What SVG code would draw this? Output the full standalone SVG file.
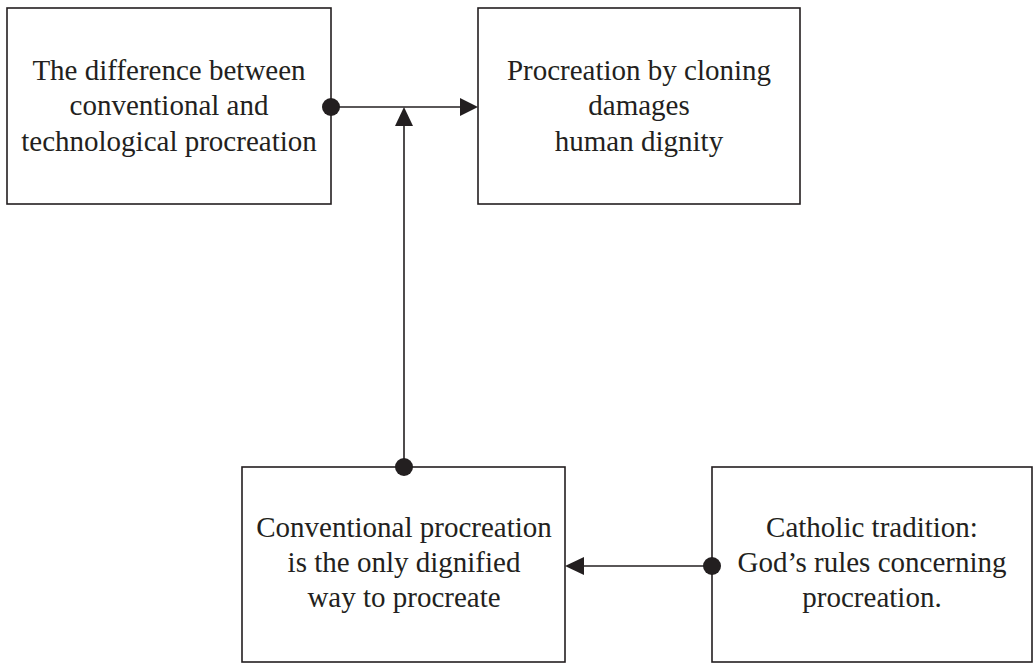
<svg xmlns="http://www.w3.org/2000/svg" width="1033" height="664" viewBox="0 0 1033 664">
  <style>
    .box { fill: #ffffff; stroke: #231f20; stroke-width: 1.6; }
    .label { font-family: "Liberation Serif", "Times New Roman", serif; font-size: 29px; fill: #231f20; text-anchor: middle; }
    .link { stroke: #231f20; stroke-width: 1.6; fill: none; }
    .dot { fill: #231f20; }
    .head { fill: #231f20; }
  </style>
  <rect width="1033" height="664" fill="#ffffff"/>

  <g id="node-difference">
    <rect class="box" x="7" y="8" width="324" height="196"/>
    <text class="label" x="169" y="80">The difference between</text>
    <text class="label" x="169" y="115">conventional and</text>
    <text class="label" x="169" y="151">technological procreation</text>
  </g>

  <g id="node-cloning">
    <rect class="box" x="478" y="8" width="322" height="196"/>
    <text class="label" x="639" y="80">Procreation by cloning</text>
    <text class="label" x="639" y="115">damages</text>
    <text class="label" x="639" y="151">human dignity</text>
  </g>

  <g id="node-conventional">
    <rect class="box" x="242" y="467" width="323" height="195"/>
    <text class="label" x="404" y="537">Conventional procreation</text>
    <text class="label" x="404" y="572">is the only dignified</text>
    <text class="label" x="404" y="607">way to procreate</text>
  </g>

  <g id="node-catholic">
    <rect class="box" x="712" y="467" width="320" height="195"/>
    <text class="label" x="872" y="537">Catholic tradition:</text>
    <text class="label" x="872" y="572">God’s rules concerning</text>
    <text class="label" x="872" y="607">procreation.</text>
  </g>

  <g id="connectors">
    <!-- difference -> cloning -->
    <line class="link" x1="331" y1="107" x2="462" y2="107"/>
    <circle class="dot" cx="331" cy="107" r="9"/>
    <polygon class="head" points="478,107 460,98 460,116"/>

    <!-- conventional -> the link above -->
    <line class="link" x1="404" y1="467" x2="404" y2="124"/>
    <circle class="dot" cx="404" cy="467" r="9"/>
    <polygon class="head" points="404,107 395,126 413,126"/>

    <!-- catholic -> conventional -->
    <line class="link" x1="712" y1="566" x2="582" y2="566"/>
    <circle class="dot" cx="712" cy="566" r="9"/>
    <polygon class="head" points="565,566 584,557 584,575"/>
  </g>
</svg>
